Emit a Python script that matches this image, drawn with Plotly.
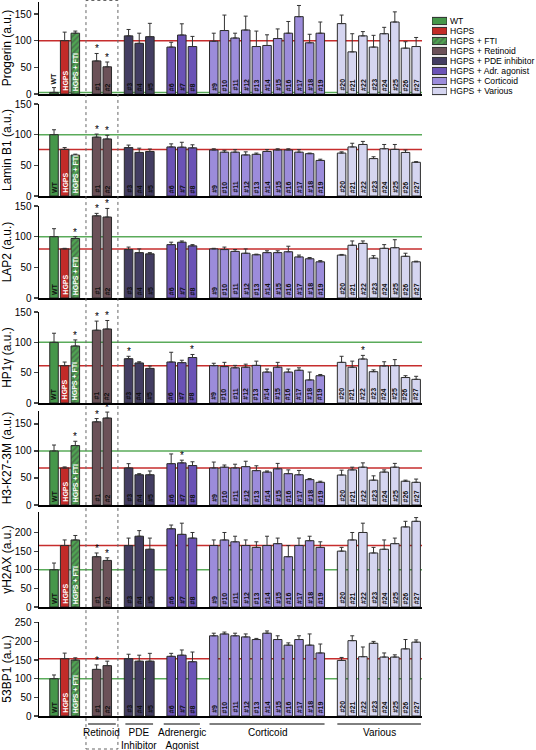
import plotly.graph_objects as go

W, H = 536, 750
FONT = "Arial, Liberation Sans, sans-serif"

# ---------------- data ----------------
labels = ["WT", "HGPS", "HGPS + FTI"] + [f"#{i}" for i in range(1, 28)]
xpos = [0, 1, 2, 4, 5, 7, 8, 9, 11, 12, 13] + list(range(15, 26)) + list(range(27, 35))
groups = (["WT", "HGPS", "FTI", "Ret", "Ret", "PDE", "PDE", "PDE", "Adr", "Adr", "Adr"]
          + ["Cort"] * 11 + ["Var"] * 8)

progerin = [3, 100, 114, 62, 51, 109, 95, 107.5, 88, 110.6, 89,
            99, 119, 105, 120, 89, 91, 104, 114, 145, 96, 114,
            132, 79, 109, 88, 113, 135, 86, 89]
progerin_err = [9, 16, 4, 14, 9, 12, 19, 25, 9, 21, 19,
                15, 29, 9, 26, 29, 20, 18, 22, 21, 16, 21,
                16, 34, 8, 22, 12, 19, 12, 17]
progerin_star = [3, 4]

laminb1 = [100, 76, 66.7, 96, 93, 79, 71, 72.6, 80, 79.6, 78.5,
           75, 71.5, 71.5, 67, 68, 72.6, 75, 75, 71.5, 69, 58,
           70, 80, 84, 61, 77, 76, 71, 55]
laminb1_err = [8, 3, 1.5, 5, 6, 4, 7, 4, 5, 8, 5,
               2, 3, 4, 5, 2, 3, 2, 2, 4, 1, 2,
               2, 6, 5, 3, 7, 8, 4, 1]
laminb1_star = [3, 4]

lap2 = [100, 80, 97, 134, 132, 79, 74, 72, 87, 91, 85,
        80, 79, 76, 73, 70.5, 74, 74, 75.4, 67, 64, 59,
        70, 86, 89, 65, 81, 82, 68, 59]
lap2_err = [13, 1, 3, 4, 14, 4, 6, 2, 4, 2, 2,
            1, 4, 3, 7, 1, 3, 3, 9, 3, 2, 2,
            1, 7, 4, 4, 6, 13, 5, 1]
lap2_star = [2, 3, 4]

hp1g = [100, 61.5, 94, 120, 122, 73, 66, 57, 67.6, 66.5, 75,
        61.5, 60, 58, 59, 62, 51, 59, 51, 54, 38, 45,
        67, 59, 72.5, 51.6, 61, 61.5, 42, 39]
hp1g_err = [15, 6, 10, 15, 14, 4, 2, 4, 16, 4, 5,
            4, 7, 4, 5, 7, 5, 8, 5, 4, 13, 2,
            10, 10, 6, 3, 7, 10, 3, 5]
hp1g_star = [2, 3, 4, 5, 10, 24]

h3k27 = [100, 68.5, 110, 154, 161, 68.5, 56, 56, 76.5, 78, 73,
         68.5, 70, 68.5, 71, 63.6, 61, 67, 58, 56, 47, 42,
         55.5, 65, 70, 46, 61, 70, 44, 42]
h3k27_err = [11, 2, 8, 6, 11, 8, 2, 7, 18, 5, 7,
             11, 4, 7, 10, 9, 2, 10, 7, 8, 2, 2,
             9, 5, 8, 8, 4, 7, 2, 6]
h3k27_star = [2, 3, 4, 9]

gh2ax = [100, 165, 180, 135, 125, 165, 190, 155, 210, 195, 185,
         165, 180, 175, 165, 160, 165, 170, 135, 165, 178, 160,
         150, 180, 200, 145, 155, 170, 215, 230]
gh2ax_err = [18, 15, 12, 10, 7, 20, 15, 30, 10, 30, 15,
             15, 20, 15, 15, 15, 25, 15, 30, 20, 12, 15,
             10, 20, 25, 15, 25, 15, 15, 10]
gh2ax_star = [3, 4]

bp53 = [100, 153.6, 150, 125, 135, 153.6, 147, 147, 160, 163, 145.5,
        215, 220, 215, 212, 205, 222, 205, 190, 205, 190, 169,
        149, 202, 159, 195, 158, 158, 180, 198]
bp53_err = [10, 15, 6, 12, 12, 12, 16, 21, 8, 14, 26,
            7, 5, 7, 8, 3, 6, 10, 6, 10, 30, 24,
            8, 13, 26, 5, 11, 6, 25, 6]
bp53_star = [3]

panel_titles = ["Progerin (a.u.)", "Lamin B1 (a.u.)", "LAP2 (a.u.)", "HP1γ (a.u.)",
                "H3-K27-3M (a.u.)", "γH2AX (a.u.)", "53BP1 (a.u.)"]
panel_vals = [progerin, laminb1, lap2, hp1g, h3k27, gh2ax, bp53]
panel_errs = [progerin_err, laminb1_err, lap2_err, hp1g_err, h3k27_err, gh2ax_err, bp53_err]
panel_stars = [progerin_star, laminb1_star, lap2_star, hp1g_star, h3k27_star, gh2ax_star, bp53_star]
panel_max = [172.5, 150, 150, 150, 174, 255, 252]
panel_ticks = ([[0, 50, 100, 150]] * 5 + [[0, 50, 100, 150, 200]]
               + [[0, 50, 100, 150, 200, 250]])
# pixel top / bottom of each panel
panel_px = [(2, 94), (104, 196), (206, 298), (312, 403), (411, 505), (512, 607), (622, 716)]

legend_names = ["WT", "HGPS", "HGPS + FTI", "HGPS + Retinoid", "HGPS + PDE inhibitor",
                "HGPS + Adr. agonist", "HGPS + Corticoid", "HGPS + Various"]
group_keys = ["WT", "HGPS", "FTI", "Ret", "PDE", "Adr", "Cort", "Var"]

group_names = ["Retinoid", "PDE<br>Inhibitor", "Adrenergic<br>Agonist", "Corticoid", "Various"]
group_spans = [(3.2, 5.8), (6.7, 9.3), (10.3, 13.7), (14.6, 25.4), (26.6, 34.45)]

# ---------------- style ----------------
COL = {"WT": "#46974a", "HGPS": "#c22b28", "FTI": "#4fa552", "Ret": "#6b5158",
       "PDE": "#433d62", "Adr": "#6b53b6", "Cort": "#9c8cdb", "Var": "#d5d5f0"}
GREEN_LINE = "#5aab5a"
RED_LINE = "#c62d2d"
OUT = "#2a2a2a"

bar_colors = [COL[g] for g in groups]
pat_shapes = ["/" if g == "FTI" else "" for g in groups]
text_colors = ["white" if g in ("HGPS", "FTI") else "#111" for g in groups]

XR = [-1.41, 34.55]
XD = [39 / W, 422 / W]


def py(px):
    return 1 - px / H


fig = go.Figure()
shapes = []
annotations = []
layout = {}

for i in range(7):
    n = i + 1
    xs = "x" if n == 1 else f"x{n}"
    ys = "y" if n == 1 else f"y{n}"
    xk = "xaxis" if n == 1 else f"xaxis{n}"
    yk = "yaxis" if n == 1 else f"yaxis{n}"
    vals, errs = panel_vals[i], panel_errs[i]
    fig.add_trace(go.Bar(
        x=xpos, y=vals, width=0.8, xaxis=xs, yaxis=ys, showlegend=False,
        marker=dict(color=bar_colors, line=dict(color=OUT, width=1),
                    pattern=dict(shape=pat_shapes, fgcolor="#1b5e20", bgcolor="#4fa552",
                                 size=4, solidity=0.45, fillmode="overlay")),
        error_y=dict(type="data", symmetric=False, array=errs, arrayminus=[0] * len(errs),
                     thickness=1, width=2, color="#333"),
        hoverinfo="skip",
    ))
    top, bot = panel_px[i]
    layout[xk] = dict(domain=XD, range=XR, anchor=ys, showline=True, linewidth=1.5,
                      linecolor="black", showticklabels=False, ticks="", showgrid=False,
                      zeroline=False, fixedrange=True)
    layout[yk] = dict(domain=[py(bot), py(top)], range=[0, panel_max[i]], anchor=xs,
                      tickvals=panel_ticks[i], ticks="outside", ticklen=4, tickwidth=1.2,
                      showline=True, linewidth=1.5, linecolor="black", showgrid=False,
                      zeroline=False, tickfont=dict(size=10, family=FONT, color="black"),
                      title=dict(text=panel_titles[i], font=dict(size=12, family=FONT, color="black"),
                                 standoff=4),
                      automargin=False, fixedrange=True)
    # reference lines: WT (green) and HGPS (red)
    for val, col in ((vals[0], GREEN_LINE), (vals[1], RED_LINE)):
        shapes.append(dict(type="line", xref=f"{xs} domain", yref=ys, x0=0, x1=1,
                           y0=val, y1=val, line=dict(color=col, width=1.5), layer="below"))
    # bar labels
    for j, (xv, lab) in enumerate(zip(xpos, labels)):
        base = 0 if vals[j] > 20 else vals[j] + errs[j]
        annotations.append(dict(x=xv, y=base, xref=xs, yref=ys, text=lab, textangle=-90,
                                showarrow=False, yanchor="bottom", xanchor="center", yshift=1,
                                font=dict(size=7, family=FONT, color=text_colors[j] if base == 0 else "#111",
                                          weight="bold")))
    # significance stars
    for j in panel_stars[i]:
        annotations.append(dict(x=xpos[j], y=vals[j] + errs[j], xref=xs, yref=ys, text="*",
                                showarrow=False, yanchor="bottom", xanchor="center", yshift=-3,
                                font=dict(size=10, family=FONT, color="black")))

# dotted box around the retinoid group
shapes.append(dict(type="rect", xref="x", yref="paper", x0=3, x1=6, y0=py(749), y1=py(0.5),
                   line=dict(color="#666", width=1, dash="dot")))

# group underlines and labels under the last panel
for name, (a, b) in zip(group_names, group_spans):
    shapes.append(dict(type="line", xref="x7", yref="paper", x0=a, x1=b, y0=py(724), y1=py(724),
                       line=dict(color="black", width=1)))
    annotations.append(dict(x=(a + b) / 2, y=py(725), xref="x7", yref="paper", text=name,
                            showarrow=False, yanchor="top", xanchor="center",
                            font=dict(size=10, family=FONT, color="black")))

# legend drawn as swatches on a small dedicated axis
fig.add_trace(go.Bar(
    x=[1] * len(group_keys), y=list(range(len(group_keys))), orientation="h", width=0.72,
    xaxis="x8", yaxis="y8", showlegend=False, hoverinfo="skip",
    marker=dict(color=[COL[k] for k in group_keys], line=dict(color=OUT, width=1),
                pattern=dict(shape=["/" if k == "FTI" else "" for k in group_keys],
                             fgcolor="#1b5e20", bgcolor="#4fa552", size=4, solidity=0.45,
                             fillmode="overlay")),
))
layout["xaxis8"] = dict(domain=[432 / W, 447 / W], range=[0, 1], visible=False, anchor="y8",
                        fixedrange=True)
layout["yaxis8"] = dict(domain=[py(96), py(16)], range=[7.5, -0.5], visible=False, anchor="x8",
                        fixedrange=True)
for k, name in enumerate(legend_names):
    annotations.append(dict(x=1, y=k, xref="x8 domain", yref="y8", text=name, showarrow=False,
                            xanchor="left", yanchor="middle", xshift=1,
                            font=dict(size=8.6, family=FONT, color="black")))

fig.update_layout(
    width=W, height=H, template="none",
    margin=dict(l=0, r=0, t=0, b=0),
    paper_bgcolor="white", plot_bgcolor="rgba(0,0,0,0)",
    showlegend=False, bargap=0,
    shapes=shapes, annotations=annotations,
    font=dict(family=FONT, color="black"),
    **layout,
)

fig.write_html("out.html", config={"displayModeBar": False, "staticPlot": True},
               post_script="document.body.style.margin='0px';")
